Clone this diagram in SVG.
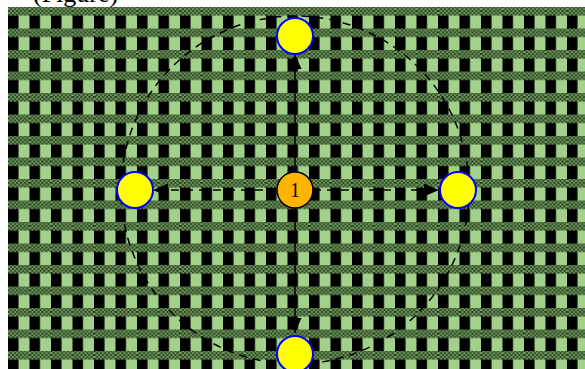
<svg xmlns="http://www.w3.org/2000/svg" width="585" height="369" viewBox="0 0 585 369">
<style>
.outer{fill:#ffff00;stroke:#0000ff;stroke-width:2}
.center{fill:#ffb400;stroke:#000000;stroke-width:1.5}
.lbl{font-family:"Liberation Serif",serif;font-size:20px;fill:#000}
.cap{font-family:"Liberation Serif",serif;font-size:26px;fill:#000}
.edge{fill:none;stroke:#000;stroke-width:1.5}
.dash{stroke-dasharray:8,6}
</style>
<defs>
<pattern id="chk" x="8" y="7" width="4" height="4" patternUnits="userSpaceOnUse">
<rect width="4" height="4" fill="#78a765"/>
<rect width="2" height="2" fill="#24381c"/>
<rect x="2" y="2" width="2" height="2" fill="#24381c"/>
</pattern>
<pattern id="bg" x="8" y="7" width="21.5" height="21.5" patternUnits="userSpaceOnUse">
<rect width="21.5" height="21.5" fill="#a3d18c"/>
<rect x="0" y="8" width="10.5" height="13.5" fill="#000"/>
<rect x="0" y="0" width="21.5" height="8.5" fill="url(#chk)"/>
</pattern>
<marker id="ah" viewBox="0 0 15 13" refX="15" refY="6.5" markerWidth="15" markerHeight="13" markerUnits="userSpaceOnUse" orient="auto">
<path d="M0,0 L15,6.5 L0,13 z" fill="#000"/>
</marker>
</defs>
<rect x="0" y="0" width="585" height="369" fill="#ffffff"/>
<text class="cap" x="33" y="2">(Figure)</text>
<rect x="8" y="7" width="577" height="362" fill="url(#bg)"/>
<g id="connectors">
<circle class="edge dash" cx="295" cy="190" r="174"/>
<line class="edge" x1="295" y1="172" x2="295" y2="54" marker-end="url(#ah)"/>
<line class="edge" x1="295" y1="208" x2="295" y2="333" marker-end="url(#ah)"/>
<line class="edge dash" x1="277" y1="190" x2="153" y2="190" marker-end="url(#ah)"/>
<line class="edge dash" x1="313" y1="190" x2="439" y2="190" marker-end="url(#ah)"/>
</g>
<g id="n1"><circle class="center" cx="295" cy="190" r="18"/><text class="lbl" x="295" y="197" text-anchor="middle">1</text></g>
<g id="n2"><circle class="outer" cx="295" cy="36" r="18"/></g>
<g id="n3"><circle class="outer" cx="135" cy="190" r="18"/></g>
<g id="n4"><circle class="outer" cx="458" cy="190" r="18"/></g>
<g id="n5"><circle class="outer" cx="295" cy="354" r="18"/></g>
</svg>
